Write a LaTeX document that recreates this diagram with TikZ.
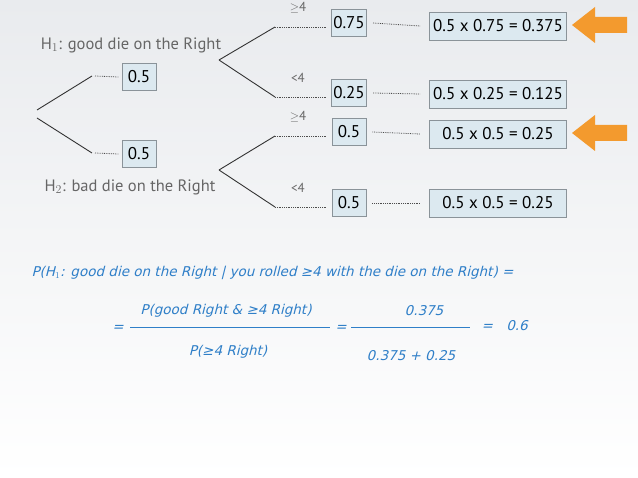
\documentclass[tikz,border=0pt]{standalone}
\usepackage{fontspec}
\setmainfont{PT Sans}
\newfontfamily\handfont[FakeSlant=0.25]{DejaVu Sans}
\usetikzlibrary{calc}
\definecolor{boxfill}{HTML}{DCE9F0}
\definecolor{boxline}{HTML}{8A9399}
\definecolor{ink}{HTML}{2F7FC8}
\definecolor{arrowc}{HTML}{F39A2E}
\definecolor{bgtop}{HTML}{E9EBEE}
\tikzset{
  prob/.style={draw=boxline, fill=boxfill, line width=0.6pt, inner sep=2pt, minimum height=27pt, minimum width=34pt, font=\fontsize{17}{17}\selectfont},
  res/.style={prob, minimum width=137pt, minimum height=28pt},
  branch/.style={line width=0.9pt, black!80},
  dotted line/.style={densely dotted, line width=0.8pt, black!70},
  lab/.style={text=black!60, font=\fontsize{16.5}{16.5}\selectfont},
  hand/.style={text=ink, font=\handfont\fontsize{13.5}{13.5}\selectfont}
}
\begin{document}
\begin{tikzpicture}[x=1pt,y=-1pt]
\useasboundingbox (0,0) rectangle (638,478);
\shade[top color=bgtop, bottom color=white] (0,0) rectangle (638,478);

% first level
\coordinate (ru) at (37,110);
\coordinate (rd) at (37,118);
\coordinate (u1) at (92,76);
\coordinate (d1) at (92,153);
\node[prob] (h1) at (139,77) {0.5};
\node[prob] (h2) at (139,154) {0.5};
\draw[branch] (ru) -- (u1);
\draw[branch] (rd) -- (d1);
\draw[dotted line] ($(u1)+(3,0)$) -- ($(h1.west)+(-3,0)$);
\draw[dotted line] ($(d1)+(3,0)$) -- ($(h2.west)+(-3,0)$);
\node[lab] (t1) at (131,45) {H$_{1}$: good die on the Right};
\node[lab] (t2) at (130,187) {H$_{2}$: bad die on the Right};

% second level
\coordinate (s1) at (219,60);
\coordinate (s2) at (219,170);
\foreach \n/\s/\y/\r/\p/\v/\l in {a/s1/23/26/0.75/0.375/{$\geq$4},
                                  b/s1/93/94/0.25/0.125/{<4},
                                  c/s2/132/134/0.5/0.25/{$\geq$4},
                                  d/s2/203/203/0.5/0.25/{<4}}{
  \coordinate (e\n) at (275,\y+4);
  \draw[branch] (\s) -- (e\n);
  \node[prob] (p\n) at (349,\y) {\p};
  \node[res] (r\n) at (498,\r) {0.5 x \p\ = \v};
  \draw[dotted line] (e\n) -- ($(p\n.west)+(-5,4)$);
  \draw[dotted line] ($(p\n.east)+(6,0)$) -- ($(r\n.west)+(-9,0)$);
  \node[lab, font=\fontsize{13}{13}\selectfont] (l\n) at (298,\y-15) {\l};
}

% highlight arrows
\foreach \y in {25,133}
  \fill[arrowc] (572,\y) -- (595,\y-18) -- (595,\y-8) -- (627,\y-8)
    -- (627,\y+8) -- (595,\y+8) -- (595,\y+18) -- cycle;

% handwritten formula
\node[hand, anchor=west] (q) at (28,273) {P(H$_1$: good die on the Right | you rolled ≥4 with the die on the Right) =};
\node[hand] (eq1) at (118,328) {=};
\node[hand] (n1) at (226,311) {P(good Right \& ≥4 Right)};
\node[hand] (m1) at (228,352) {P(≥4 Right)};
\draw[ink, line width=1pt] (130,328) -- (330,328);
\node[hand] (eq2) at (341,328) {=};
\node[hand] (n2) at (424,311) {0.375};
\node[hand] (m2) at (411,356) {0.375 + 0.25};
\draw[ink, line width=1pt] (351,328) -- (470,328);
\node[hand, anchor=west] (ans) at (478,326) {=\quad 0.6};
\end{tikzpicture}
\end{document}
